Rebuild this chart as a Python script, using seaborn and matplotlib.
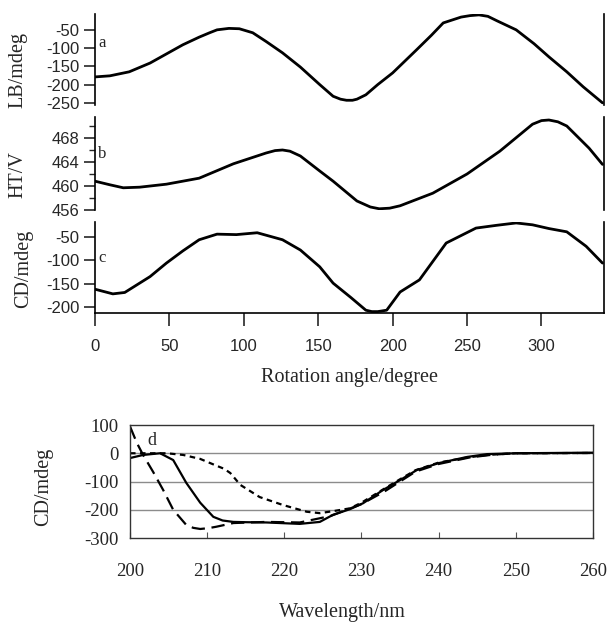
"""
Rotation-angle scans (LB, HT, CD) and CD spectra, redrawn with seaborn.
Saves out.png.
"""

import pandas as pd
import seaborn as sns
from matplotlib import pyplot as plt
from matplotlib.ticker import MultipleLocator

# Rotation angle scans (panels a-c)
ANGLE_A = [0, 10, 23, 37, 48, 59, 70, 77, 82, 90, 97, 106, 115, 126, 138, 151,
           160, 165, 169, 173, 176, 182, 190, 200, 216, 226, 234, 246, 252, 258,
           264, 270, 283, 295, 305, 317, 328, 341]
LB = [-179, -176, -165, -141, -116, -91, -70, -58, -50, -46, -47, -58, -82, -113,
      -152, -200, -232, -240, -243, -243, -240, -228, -200, -168, -105, -65, -31,
      -15, -11, -9, -13, -25, -50, -88, -124, -165, -206, -250]

ANGLE_B = [0, 10, 19, 30, 48, 70, 93, 115, 121, 126, 131, 138, 151, 160, 176, 185,
           191, 198, 205, 227, 250, 272, 294, 300, 305, 311, 317, 332, 341]
HT = [460.8, 460.2, 459.7, 459.8, 460.3, 461.3, 463.7, 465.5, 465.9, 466.0, 465.8,
      465.0, 462.5, 460.8, 457.5, 456.5, 456.2, 456.3, 456.7, 458.8, 462.0, 465.8,
      470.3, 470.9, 471.0, 470.7, 470.0, 466.3, 463.6]

ANGLE_C = [0, 12, 20, 26, 37, 48, 59, 70, 82, 95, 109, 126, 138, 151, 160, 172,
           182, 186, 190, 196, 205, 218, 236, 256, 270, 283, 294, 305, 317, 330,
           341]
CD_ROT = [-162, -172, -169, -157, -135, -106, -80, -56, -44, -45, -41, -56, -78,
          -114, -149, -180, -207, -210, -210, -207, -168, -142, -63, -31, -25, -20,
          -24, -32, -39, -70, -106]

# CD spectra (panel d)
WL_SOLID = [200, 201.7, 203.9, 205.6, 207.3, 209.1, 210.8, 212, 213.4, 215, 217.7,
            222, 224.6, 226.3, 228.5, 230.2, 232.8, 235, 237.2, 240, 243.7, 246.3,
            250, 260]
CD_SOLID = [-17, -6, 0, -24, -105, -175, -225, -238, -243, -244, -245, -250, -243,
            -218, -198, -177, -130, -95, -59, -35, -13, -3, 0, 2]

WL_LONG = [200, 200.9, 201.7, 203, 204.3, 205.6, 207.3, 208.2, 209.1, 210.2, 211.2,
           213.4, 217.7, 222, 226, 230, 233, 235, 237, 240, 244, 247, 250, 260]
CD_LONG = [95, 36, -6, -66, -130, -200, -254, -264, -268, -265, -260, -247, -243,
           -245, -222, -180, -135, -100, -65, -38, -15, -5, 0, 1]

WL_SHORT = [200, 204.8, 206.9, 209.1, 211.2, 212.2, 213, 214.3, 216.8, 219.8, 222.9,
            224.6, 226.3, 228.5, 230, 232.8, 235, 237, 240, 243.7, 246.3, 250, 260]
CD_SHORT = [0, 0, -6, -20, -44, -55, -70, -112, -155, -183, -207, -212, -205, -195,
            -175, -128, -92, -60, -33, -15, -6, 0, 1]

SERIF = "Liberation Serif"
SANS = "Liberation Sans"

sns.set_style("ticks")
plt.rcParams["font.family"] = [SANS, "DejaVu Sans"]
plt.rcParams["axes.unicode_minus"] = False

fig = plt.figure(figsize=(6.12, 6.24), dpi=100)

ax_a = fig.add_axes([0.1552, 0.8317, 0.8317, 0.1462])
ax_b = fig.add_axes([0.1552, 0.6635, 0.8317, 0.1490])
ax_c = fig.add_axes([0.1552, 0.4984, 0.8317, 0.1458])
ax_d = fig.add_axes([0.2124, 0.1378, 0.7565, 0.1811])

scan_specs = [
    (ax_a, ANGLE_A, LB, (-256, -6), "LB/mdeg", "a", 0.68, -0.132, 0.384),
    (ax_b, ANGLE_B, HT, (456, 471.5), "HT/V", "b", 0.60, -0.132, 0.376),
    (ax_c, ANGLE_C, CD_ROT, (-213, -18), "CD/mdeg", "c", 0.60, -0.122, 0.484),
]

for ax, xs, ys, ylim, ylab, tag, tag_y, lab_x, lab_y in scan_specs:
    sns.lineplot(x=xs, y=ys, ax=ax, color="black", linewidth=2.0)
    ax.set_xlim(0, 342)
    ax.set_ylim(*ylim)
    ax.set_ylabel(ylab, fontfamily=SERIF, fontsize=14.5)
    ax.yaxis.set_label_coords(lab_x, lab_y)
    ax.text(0.006, tag_y, tag, transform=ax.transAxes, fontfamily=SERIF,
            fontsize=12, ha="left", va="center")
    ax.spines["top"].set_visible(False)
    ax.spines["right"].set_visible(True)
    for sp in ("left", "right", "bottom"):
        ax.spines[sp].set_linewidth(1.2)
        ax.spines[sp].set_color("black")
    ax.tick_params(axis="y", direction="out", length=8, width=1.2, pad=3,
                   labelsize=12)
    ax.patch.set_alpha(0)

for ax in (ax_a, ax_b):
    ax.spines["bottom"].set_visible(False)
    ax.set_xticks([])

ax_a.set_yticks([-50, -100, -150, -200, -250])
ax_b.yaxis.set_major_locator(MultipleLocator(4))
ax_b.set_yticks([458, 462, 466, 470], minor=True)
ax_b.tick_params(axis="y", which="minor", direction="out", length=4, width=1.0)
ax_c.set_yticks([-50, -100, -150, -200])
ax_c.set_xticks([0, 50, 100, 150, 200, 250, 300])
ax_c.tick_params(axis="x", direction="out", length=9, width=1.2, pad=10,
                 labelsize=12)
ax_c.set_xlabel("Rotation angle/degree", fontfamily=SERIF, fontsize=14.5,
                labelpad=10)

# panel d: three spectra in one long table, style picks the dash pattern
spec_df = pd.concat([
    pd.DataFrame({"wavelength": WL_SOLID, "cd": CD_SOLID, "curve": "solid"}),
    pd.DataFrame({"wavelength": WL_LONG, "cd": CD_LONG, "curve": "long"}),
    pd.DataFrame({"wavelength": WL_SHORT, "cd": CD_SHORT, "curve": "short"}),
])
sns.lineplot(
    data=spec_df, x="wavelength", y="cd", style="curve",
    dashes={"solid": "", "long": (6, 3), "short": (2.5, 2)},
    color="black", linewidth=1.6, legend=False, ax=ax_d,
)
ax_d.set_xlim(200, 260)
ax_d.set_ylim(-300, 100)
ax_d.set_xticks([200, 210, 220, 230, 240, 250, 260])
ax_d.set_yticks([100, 0, -100, -200, -300])
for gy in (0, -100, -200):
    ax_d.axhline(gy, color="#8c8c8c", linewidth=1.0, zorder=0)
for sp in ax_d.spines.values():
    sp.set_visible(True)
    sp.set_color("#333333")
    sp.set_linewidth(1.0)
ax_d.tick_params(axis="x", direction="in", length=4, width=0.8, pad=18,
                 color="#555555")
ax_d.tick_params(axis="y", length=0, pad=8)
for lab in ax_d.get_xticklabels() + ax_d.get_yticklabels():
    lab.set_fontfamily(SERIF)
    lab.set_fontsize(13.5)
ax_d.set_xlabel("")
ax_d.set_ylabel("CD/mdeg", fontfamily=SERIF, fontsize=14.5)
ax_d.yaxis.set_label_coords(-0.166, 0.451)
ax_d.text(0.037, 0.86, "d", transform=ax_d.transAxes, fontfamily=SERIF,
          fontsize=13, ha="left", va="center")
fig.text(342 / 612, 1 - 613 / 624, "Wavelength/nm", fontfamily=SERIF,
         fontsize=14.5, ha="center", va="center")

fig.savefig("out.png", dpi=100)
